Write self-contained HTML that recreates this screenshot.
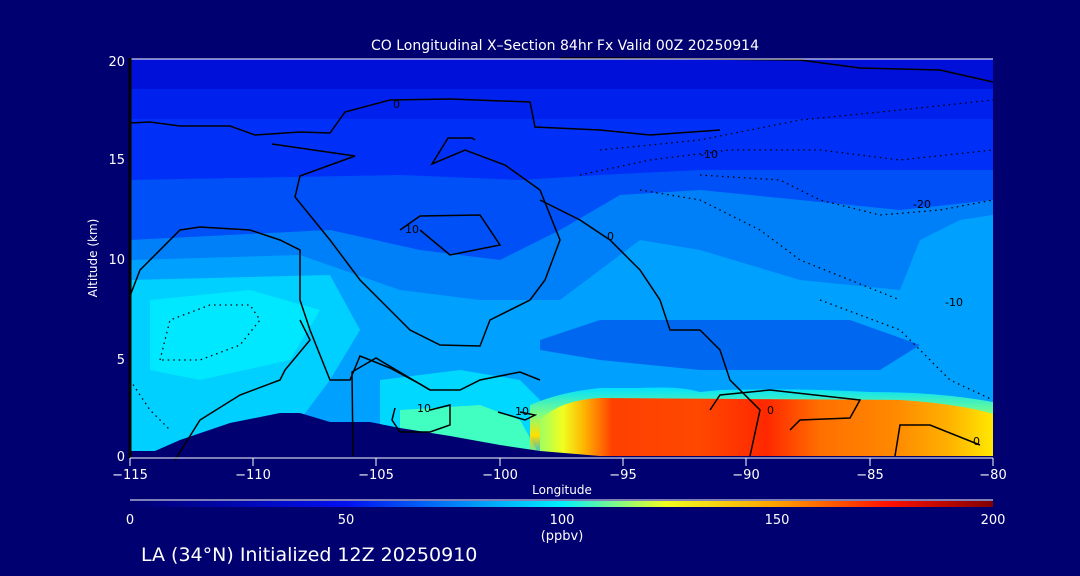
<!DOCTYPE html>
<html><head><style>
body{margin:0;background:#000070;}
svg{display:block;font-family:"DejaVu Sans","Liberation Sans",sans-serif;}
</style></head><body>
<svg width="1080" height="576" xmlns="http://www.w3.org/2000/svg">
<defs>
<linearGradient id="cb" x1="0" x2="1" y1="0" y2="0">
<stop offset="0" stop-color="#000070"/>
<stop offset="0.25" stop-color="#0010f0"/>
<stop offset="0.5" stop-color="#00f0ff"/>
<stop offset="0.62" stop-color="#f0ff20"/>
<stop offset="0.75" stop-color="#ffa000"/>
<stop offset="0.88" stop-color="#ff1000"/>
<stop offset="1" stop-color="#800000"/>
</linearGradient>
<linearGradient id="hot" x1="0" x2="1" y1="0" y2="0">
<stop offset="0" stop-color="#a0ff60"/>
<stop offset="0.05" stop-color="#f0ff20"/>
<stop offset="0.1" stop-color="#ffb000"/>
<stop offset="0.16" stop-color="#ff4000"/>
<stop offset="0.35" stop-color="#ff4800"/>
<stop offset="0.5" stop-color="#ff2800"/>
<stop offset="0.62" stop-color="#ff7000"/>
<stop offset="0.78" stop-color="#ff8800"/>
<stop offset="0.9" stop-color="#ffb000"/>
<stop offset="1" stop-color="#ffe800"/>
</linearGradient>
<linearGradient id="rim" x1="0" x2="0" y1="0" y2="1">
<stop offset="0" stop-color="#00e0ff"/>
<stop offset="0.4" stop-color="#80ff80"/>
<stop offset="0.7" stop-color="#ffe000"/>
<stop offset="1" stop-color="#ffa000" stop-opacity="0"/>
</linearGradient>
</defs>
<text x="565" y="50" fill="#fff" font-size="14" text-anchor="middle">CO Longitudinal X–Section 84hr  Fx Valid 00Z 20250914</text>
<rect x="130" y="59" width="863" height="397" fill="#0030f8"/>
<rect x="130" y="59" width="863" height="30" fill="#0010d8"/>
<rect x="130" y="89" width="863" height="30" fill="#0020ee"/>
<polygon points="130,180 400,175 520,180 600,175 700,170 993,170 993,456 130,456" fill="#0050f8"/>
<polygon points="130,240 330,230 420,250 500,260 560,230 620,195 700,190 800,200 900,210 993,200 993,456 130,456" fill="#0080f8"/>
<polygon points="130,260 300,255 400,290 480,300 560,300 600,270 640,240 700,250 800,280 900,290 920,240 960,220 993,215 993,456 130,456" fill="#00a0ff"/>
<polygon points="130,280 330,275 360,330 330,380 300,420 130,456" fill="#00d0ff"/>
<polygon points="150,300 250,290 320,310 290,360 200,380 150,370" fill="#00e8ff"/>
<polygon points="540,340 600,320 700,320 850,320 920,345 880,370 700,370 600,360 540,350" fill="#0068f0"/>
<polygon points="380,380 460,370 520,380 540,400 560,456 380,456" fill="#00d8ff"/>
<polygon points="400,410 480,405 520,420 540,456 400,456" fill="#40ffc0"/>
<path d="M530,456 L530,405 Q560,392 600,388 L640,388 Q680,386 700,392 L720,390 Q800,388 870,392 Q940,392 993,402 L993,456 Z" fill="url(#rim)"/>
<path d="M540,456 L540,420 Q560,400 600,398 L900,400 Q960,404 993,414 L993,456 Z" fill="url(#hot)"/>
<polygon points="130,456 130,451 155,451 180,440 230,423 280,413 300,413 330,422 370,422 400,428 450,436 500,445 540,451 600,456" fill="#000070"/>
<g fill="none" stroke="#000" stroke-width="1.5">
<polyline points="130,123 150,122 180,126 230,126 255,135 300,132 330,133 345,112 390,100 450,99 530,102 535,127 600,130 650,135 720,130"/>
<polyline points="272,144 355,156 300,176 295,197 330,240 360,280 380,300 410,330 440,345 480,346 490,320 530,300 545,280 560,240 540,190 505,165 465,150 432,164 448,138 472,138 475,140"/>
<polyline points="130,296 140,270 180,230 200,227 250,230 280,240 300,250 300,300 310,330 330,380 350,380 360,356 390,368 420,384 430,390 460,390 480,380 520,372 540,380"/>
<polyline points="175,460 200,420 240,395 280,380 285,370 310,340 300,320"/>
<polyline points="353,456 352,372 376,358 430,390"/>
<polyline points="400,230 420,216 480,215 500,245 450,255 420,230"/>
<polyline points="395,408 392,420 400,432 430,432 450,425 450,405 430,410"/>
<polyline points="498,412 525,420 535,415 520,412"/>
<polyline points="540,200 580,220 610,240 640,270 660,300 670,330 700,330 720,350 730,380 760,410 750,456"/>
<polyline points="710,410 720,395 770,390 860,400 850,418 800,420 790,430"/>
<polyline points="895,456 900,425 930,425 980,445"/>
<polyline points="560,58 620,58 800,60 860,68 940,70 993,82"/>
</g>
<g fill="none" stroke="#000" stroke-width="1.3" stroke-dasharray="1.5,4">
<polyline points="160,360 170,320 210,305 250,305 260,320 240,345 200,360 160,360"/>
<polyline points="600,150 700,140 800,120 900,110 993,100"/>
<polyline points="580,175 650,160 730,150 820,150 900,160 993,150"/>
<polyline points="640,190 700,200 760,230 800,260 850,280 900,300"/>
<polyline points="700,175 780,180 820,200 880,215 940,210 993,200"/>
<polyline points="820,300 900,330 950,380 993,400"/>
<polyline points="130,380 150,410 170,430"/>
</g>
<g font-size="11" fill="#000">
<text x="393" y="108">0</text><text x="700" y="158">-10</text><text x="913" y="208">-20</text>
<text x="945" y="306">-10</text><text x="405" y="233">10</text><text x="417" y="412">10</text>
<text x="515" y="415">10</text><text x="607" y="240">0</text><text x="767" y="414">0</text><text x="973" y="445">0</text>
</g>
<line x1="130" y1="59" x2="993" y2="59" stroke="#fff"/>
<line x1="130" y1="58" x2="130" y2="458" stroke="#000" stroke-width="3"/>
<line x1="130" y1="458" x2="993" y2="458" stroke="#fff"/>
<g stroke="#fff">
<line x1="130" y1="458" x2="130" y2="466"/><line x1="253" y1="458" x2="253" y2="466"/><line x1="376" y1="458" x2="376" y2="466"/><line x1="500" y1="458" x2="500" y2="466"/><line x1="623" y1="458" x2="623" y2="466"/><line x1="746" y1="458" x2="746" y2="466"/><line x1="870" y1="458" x2="870" y2="466"/><line x1="993" y1="458" x2="993" y2="466"/>
</g>
<g fill="#fff" font-size="13" text-anchor="middle">
<text x="130" y="479">−115</text><text x="253" y="479">−110</text><text x="376" y="479">−105</text><text x="500" y="479">−100</text><text x="623" y="479">−95</text><text x="746" y="479">−90</text><text x="870" y="479">−85</text><text x="993" y="479">−80</text>
<text x="562" y="494" font-size="12">Longitude</text>
</g>
<g fill="#fff" font-size="13" text-anchor="end">
<text x="125" y="66">20</text><text x="125" y="164">15</text><text x="125" y="264">10</text><text x="125" y="364">5</text><text x="125" y="461">0</text>
</g>
<text transform="translate(97,258) rotate(-90)" fill="#fff" font-size="12" text-anchor="middle">Altitude (km)</text>
<line x1="130" y1="500" x2="993" y2="500" stroke="#fff"/>
<rect x="130" y="501" width="863" height="6" fill="url(#cb)"/>
<g fill="#fff" font-size="13" text-anchor="middle">
<text x="130" y="524">0</text><text x="346" y="524">50</text><text x="562" y="524">100</text><text x="777" y="524">150</text><text x="993" y="524">200</text>
<text x="562" y="540">(ppbv)</text>
</g>
<text x="141" y="561" fill="#fff" font-size="19">LA (34°N) Initialized 12Z 20250910</text>
</svg>
</body></html>
